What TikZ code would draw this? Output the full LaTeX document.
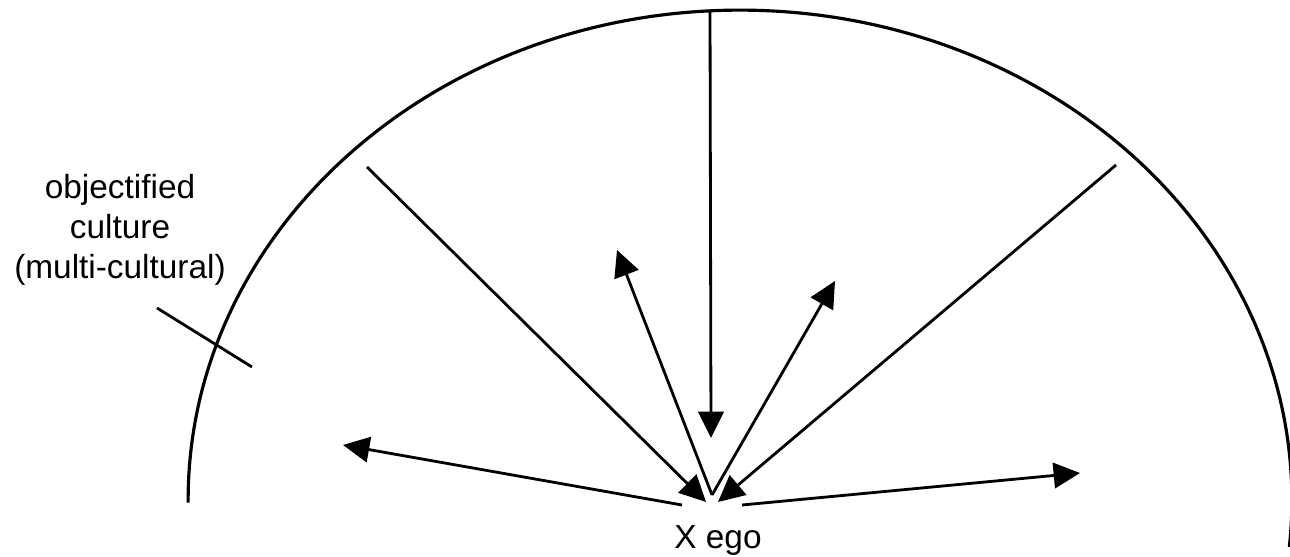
\documentclass[tikz,border=0pt]{standalone}
\usepackage{fontspec}
\setmainfont{Liberation Sans}
\usetikzlibrary{arrows.meta}
\begin{document}
\begin{tikzpicture}[x=0.02cm,y=-0.02cm, line width=1.6pt,
  arr/.style={-{Triangle[length=15pt,width=14.5pt]}},
  lbl/.style={font=\fontsize{19}{22.7}\selectfont, inner sep=0pt}]
\clip (0,0) rectangle (1290,557);
% arc (part of an ellipse centred at (740,500))
\coordinate (ctr) at (740,500);
\draw[line width=1.8pt] (ctr) ++(180.3:11.04cm and 9.8cm)
  arc[start angle=180.3, end angle=-5.5, x radius=11.04cm, y radius=9.8cm];
% labels
\node[lbl, align=center, anchor=base] (oc) at (120,278) {objectified\\culture\\(multi-cultural)};
\node[lbl, anchor=base] (ego) at (718,548) {X ego};
% coordinates
\coordinate (top) at (710,10);
\coordinate (vtip) at (711,438);
\coordinate (ul) at (367,167);
\coordinate (ultip) at (706,502);
\coordinate (ur) at (1116,165);
\coordinate (urtip) at (718,502);
\coordinate (v) at (712,495);
\coordinate (uptipL) at (617,250);
\coordinate (uptipR) at (835,281);
\coordinate (lstart) at (682,505);
\coordinate (ltip) at (343,445);
\coordinate (rstart) at (742,505);
\coordinate (rtip) at (1080,473);
\coordinate (t1) at (157,308);
\coordinate (t2) at (252,367);
% connectors
\draw[arr] (top) -- (vtip);
\draw[arr] (ul) -- (ultip);
\draw[arr] (ur) -- (urtip);
\draw[arr] (v) -- (uptipL);
\draw[arr] (v) -- (uptipR);
\draw[arr] (lstart) -- (ltip);
\draw[arr] (rstart) -- (rtip);
\draw (t1) -- (t2);
\end{tikzpicture}
\end{document}
